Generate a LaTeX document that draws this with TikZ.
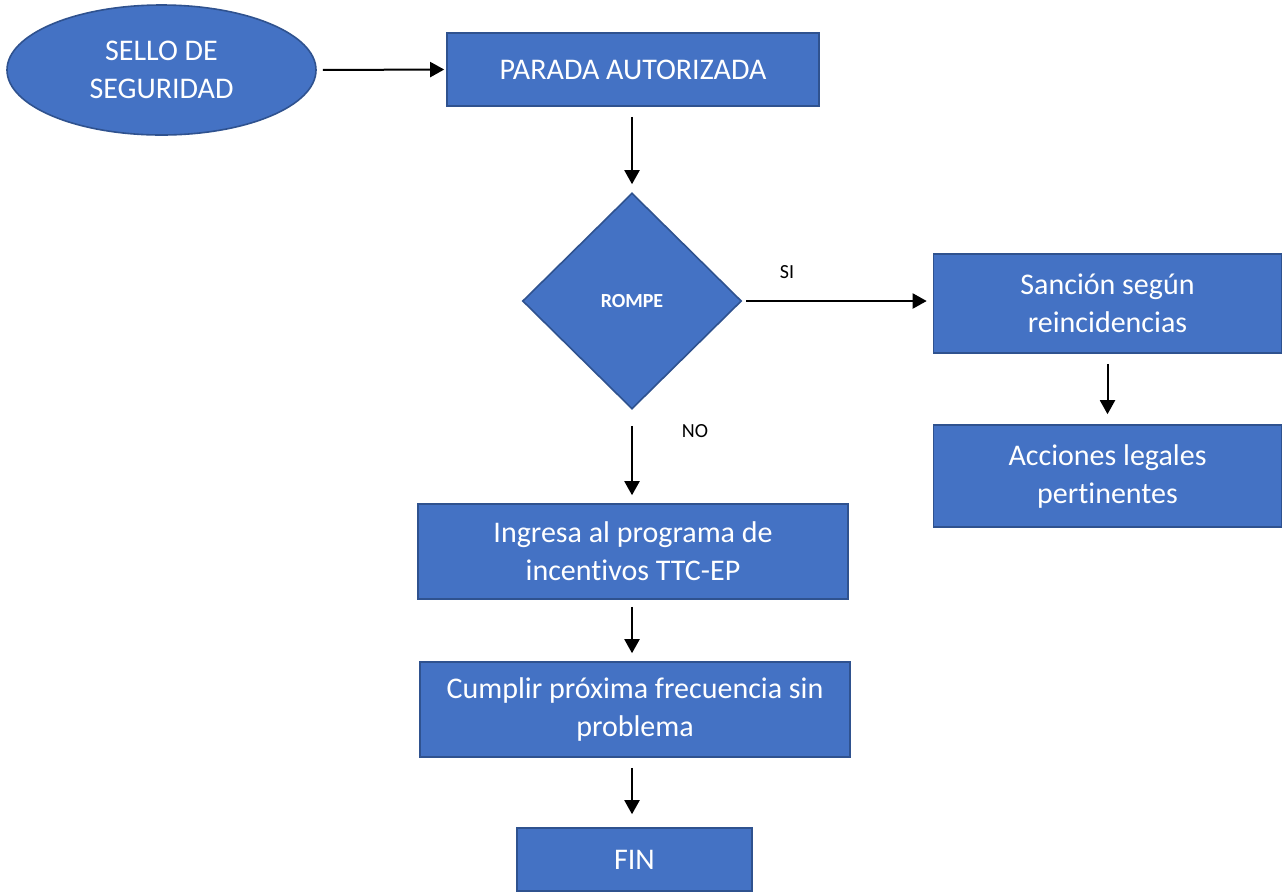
\documentclass[tikz,border=0pt]{standalone}
\usepackage{fontspec}
\setmainfont[Ligatures=NoCommon]{Carlito}
\usetikzlibrary{arrows.meta,shapes.geometric}
\definecolor{boxfill}{HTML}{4472C4}
\definecolor{boxline}{HTML}{2F528F}

\begin{document}
\begin{tikzpicture}[x=0.5pt,y=-0.5pt,>={Triangle[length=7pt,width=7.5pt]},
    flow/.style={->,line width=1pt,shorten >=4pt,shorten <=4pt},
    main box/.style={rectangle,draw=boxline,fill=boxfill,text=white,line width=0.8pt,
        inner sep=0pt,align=center,font=\fontsize{15}{19}\selectfont},
    tag/.style={font=\fontsize{10}{12}\selectfont}]

\useasboundingbox (0,0) rectangle (1283,891);

\node[main box, ellipse, minimum width=154.5pt, minimum height=65pt] (sello) at (161.5,70) {SELLO DE\\SEGURIDAD};
\node[main box, minimum width=186pt, minimum height=36.5pt] (parada) at (633,69.5) {PARADA AUTORIZADA};
\node[main box, diamond, minimum width=109.5pt, minimum height=108pt,
      font=\fontsize{10}{12}\selectfont\bfseries] (rompe) at (632,301) {ROMPE};
\node[main box, minimum width=174pt, minimum height=49.5pt] (sancion) at (1107.5,303.5) {Sanción según\\reincidencias};
\node[main box, minimum width=174pt, minimum height=51pt] (acciones) at (1107.5,476) {Acciones legales\\pertinentes};
\node[main box, minimum width=215pt, minimum height=47.5pt] (ingresa) at (633,551.5) {Ingresa al programa de\\incentivos TTC-EP};
\node[main box, minimum width=215pt, minimum height=47.5pt] (cumplir) at (635,709.5) {Cumplir próxima frecuencia sin\\problema};
\node[main box, minimum width=117.5pt, minimum height=31.5pt] (fin) at (634.5,859.5) {FIN};

\node[tag] (si) at (787,272) {SI};
\node[tag] (no) at (695,431) {NO};

\draw[flow, shorten <=3pt, shorten >=1pt] (sello.east) -- (parada.west);
\draw[flow, shorten <=5pt] (parada.south -| rompe.north) -- (rompe.north);
\draw[flow, shorten <=2pt, shorten >=3pt] (rompe.east) -- (rompe.east -| sancion.west);
\draw[flow, shorten <=8pt] (rompe.south) -- (rompe.south |- ingresa.north);
\draw[flow, shorten <=5pt, shorten >=5pt] (sancion) -- (acciones);
\draw[flow, shorten <=3.5pt] (rompe.south |- ingresa.south) -- (rompe.south |- cumplir.north);
\draw[flow, shorten <=5pt, shorten >=6.5pt] (rompe.south |- cumplir.south) -- (rompe.south |- fin.north);
\end{tikzpicture}
\end{document}
